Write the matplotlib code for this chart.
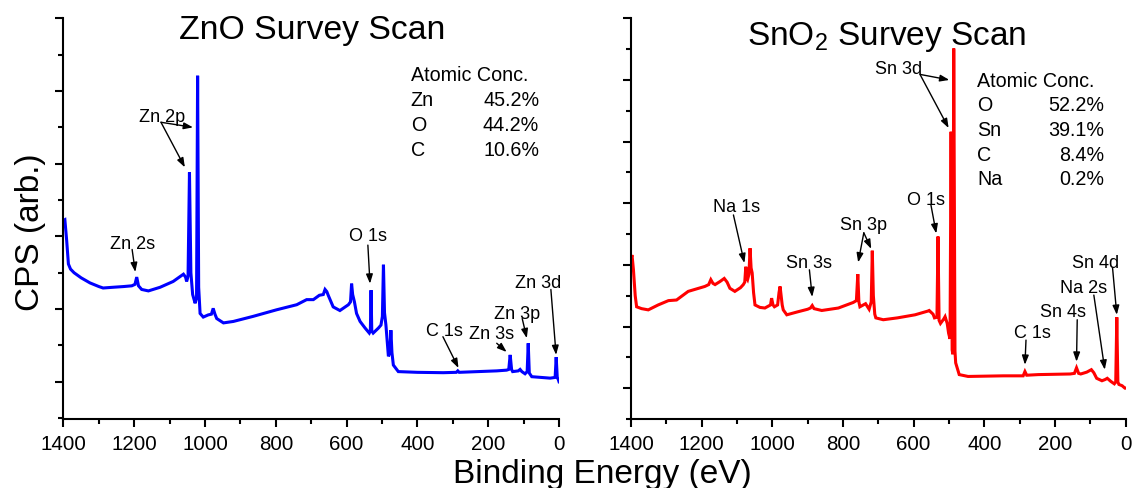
import matplotlib
matplotlib.use("Agg")
import matplotlib.pyplot as plt
from matplotlib.ticker import MultipleLocator, NullFormatter

plt.rcParams['font.family'] = ['Liberation Sans', 'DejaVu Sans']
plt.rcParams['mathtext.fontset'] = 'custom'
plt.rcParams['mathtext.rm'] = 'Liberation Sans'
plt.rcParams['mathtext.it'] = 'Liberation Sans'

# ---- ZnO survey spectrum (binding energy in eV, counts in arbitrary units) ----
zno_energy = [1400, 1396, 1391, 1386, 1380, 1370, 1350, 1325, 1300, 1288, 1260, 1230,
              1207, 1198, 1193, 1188, 1179, 1160, 1127, 1090, 1061, 1055, 1052, 1048,
              1044, 1040, 1035, 1028, 1024, 1021, 1018, 1014, 1005, 991, 982, 977, 972,
              967, 948, 920, 864, 798, 741, 713, 694, 677, 666, 661, 656, 652, 638, 619,
              595, 589, 586, 583, 578, 572, 562, 548, 536, 533, 531, 529, 525, 510, 503,
              499, 496, 493, 489, 482, 478, 475, 472, 468, 454, 400, 327, 290, 286, 282,
              176, 148, 142, 138, 134, 131, 115, 110, 105, 96, 90, 87, 84, 77, 25, 11, 8,
              5, 2, 0]
zno_cps = [2.22, 2.23, 1.95, 1.62, 1.55, 1.50, 1.43, 1.36, 1.31, 1.29, 1.30, 1.31,
           1.32, 1.34, 1.44, 1.32, 1.27, 1.25, 1.30, 1.38, 1.48, 1.44, 1.38, 1.45,
           2.88, 1.50, 1.20, 1.08, 1.15, 4.21, 1.30, 0.94, 0.89, 0.92, 0.93, 1.01, 0.93,
           0.87, 0.81, 0.83, 0.90, 0.99, 1.06, 1.13, 1.13, 1.19, 1.20, 1.27, 1.24, 1.19,
           1.03, 0.98, 1.06, 1.10, 1.35, 1.20, 1.10, 0.94, 0.83, 0.74, 0.67, 0.70, 1.26,
           0.70, 0.67, 0.74, 0.78, 0.90, 1.61, 0.95, 0.78, 0.35, 0.40, 0.71, 0.40, 0.23,
           0.14, 0.13, 0.125, 0.13, 0.15, 0.13, 0.15, 0.16, 0.17, 0.37, 0.17, 0.14, 0.15,
           0.17, 0.14, 0.11, 0.14, 0.53, 0.12, 0.07, 0.05, 0.06, 0.34, 0.06, 0.03, 0.0]

# ---- SnO2 survey spectrum ----
sno2_energy = [1400, 1397, 1393, 1388, 1384, 1370, 1351, 1323, 1294, 1271, 1238, 1191,
               1180, 1174, 1168, 1162, 1148, 1136, 1128, 1120, 1106, 1090, 1082, 1078,
               1075, 1072, 1070, 1066, 1063, 1060, 1057, 1053, 1049, 1035, 1021, 1005,
               1002, 998, 994, 985, 981, 978, 975, 972, 969, 959, 927, 900, 892, 887, 882,
               860, 813, 771, 762, 758, 755, 752, 736, 726, 720, 717, 714, 710, 707, 686,
               646, 596, 560, 556, 545, 541, 534, 531, 528, 524, 515, 511, 505, 501, 497,
               494, 491, 489, 486.5, 483, 481, 471, 446, 346, 290, 285, 280, 247, 157,
               145, 139, 133, 127, 110, 97, 90, 82, 67, 58, 52, 42, 32, 28, 25, 22, 19,
               10, 2, 0]
sno2_cps = [2.10, 2.16, 1.92, 1.50, 1.32, 1.29, 1.27, 1.35, 1.42, 1.43, 1.57, 1.65,
            1.68, 1.76, 1.70, 1.68, 1.73, 1.78, 1.72, 1.62, 1.57, 1.63, 1.68, 1.72,
            1.97, 1.78, 1.76, 1.85, 2.27, 1.95, 1.87, 1.55, 1.35, 1.31, 1.30, 1.35,
            1.46, 1.35, 1.32, 1.35, 1.55, 1.65, 1.50, 1.35, 1.27, 1.19, 1.24, 1.28, 1.30,
            1.34, 1.29, 1.26, 1.30, 1.39, 1.42, 1.85, 1.40, 1.32, 1.37, 1.28, 1.40, 2.23,
            1.50, 1.20, 1.14, 1.11, 1.14, 1.19, 1.25, 1.26, 1.20, 1.14, 1.15, 2.46, 1.10,
            1.05, 1.12, 1.16, 1.05, 0.89, 0.80, 4.16, 0.62, 0.55, 5.51, 0.60, 0.41, 0.22,
            0.19, 0.20, 0.20, 0.27, 0.21, 0.22, 0.23, 0.24, 0.33, 0.24, 0.23, 0.26, 0.30,
            0.25, 0.16, 0.12, 0.14, 0.16, 0.11, 0.07, 0.10, 1.15, 0.10, 0.06, 0.04, 0.0,
            0.0]

# Atomic concentrations (%)
zno_elements = ['Zn', 'O', 'C']
zno_conc = [45.2, 44.2, 10.6]
sno2_elements = ['O', 'Sn', 'C', 'Na']
sno2_conc = [52.2, 39.1, 8.4, 0.2]

# Peak labels: (text, text anchor (E, y), list of arrow (tail, tip) pairs)
zno_labels = [
    ('Zn 2p', (1122, 3.57), [((1124.5, 3.57), (1034, 3.50)), ((1124.5, 3.57), (1057, 2.95))]),
    ('Zn 2s', (1205, 1.82), [((1206, 1.82), (1197, 1.51))]),
    ('O 1s', (540, 1.94), [((540, 1.88), (534, 1.35))]),
    ('C 1s', (323, 0.63), [((328, 0.62), (284, 0.19))]),
    ('Zn 3s', (191, 0.59), [((176, 0.53), (148, 0.41))]),
    ('Zn 3p', (119, 0.87), [((104, 0.87), (91, 0.60))]),
    ('Zn 3d', (59, 1.29), [((23, 1.27), (8.3, 0.37))]),
]
sno2_labels = [
    ('Sn 3d', (642, 5.10), [((582, 5.09), (499, 5.0)), ((582, 5.09), (501, 4.22))]),
    ('Na 1s', (1101, 2.85), [((1110, 2.81), (1079, 2.03))]),
    ('Sn 3p', (742, 2.57), [((741, 2.52), (757, 2.04)), ((741, 2.52), (720, 2.26))]),
    ('Sn 3s', (896, 1.95), [((895, 1.92), (887, 1.48))]),
    ('O 1s', (566, 2.97), [((551, 2.97), (536, 2.51))]),
    ('C 1s', (265, 0.81), [((282, 0.78), (285, 0.38))]),
    ('Sn 4s', (176, 1.15), [((137, 1.11), (139, 0.43))]),
    ('Na 2s', (119, 1.54), [((90, 1.51), (59, 0.30))]),
    ('Sn 4d', (85, 1.95), [((37, 1.95), (25, 1.19))]),
]

fig = plt.figure(figsize=(11.33, 4.88), dpi=100)
ax_l = fig.add_axes([0.0560, 0.1408, 0.4374, 0.8217])
ax_r = fig.add_axes([0.5569, 0.1408, 0.4366, 0.8217])

arrow_kw = dict(arrowstyle='-|>,head_length=0.55,head_width=0.2', color='black',
                lw=1.0, shrinkA=0, shrinkB=0, mutation_scale=10)


def style_axes(ax, ylim):
    ax.set_xlim(1400, 0)
    ax.set_ylim(*ylim)
    for side in ('top', 'right'):
        ax.spines[side].set_visible(False)
    for side in ('left', 'bottom'):
        ax.spines[side].set_linewidth(1.5)
    ax.xaxis.set_major_locator(MultipleLocator(200))
    ax.xaxis.set_minor_locator(MultipleLocator(100))
    ax.yaxis.set_major_locator(MultipleLocator(1))
    ax.yaxis.set_minor_locator(MultipleLocator(0.5))
    ax.yaxis.set_major_formatter(NullFormatter())
    ax.tick_params(which='major', direction='out', length=6, width=1.5,
                   labelsize=14.8, pad=5.5)
    ax.tick_params(which='minor', direction='out', length=3.5, width=1.5)
    ax.set_facecolor('white')


def draw_labels(ax, labels):
    for text, pos, arrows in labels:
        ax.text(pos[0], pos[1], text, ha='center', va='baseline', fontsize=13)
        for tail, tip in arrows:
            ax.annotate('', xy=tip, xytext=tail, arrowprops=arrow_kw)


def draw_conc(ax, elements, conc, x_left, x_right, y_top, step):
    ax.text(x_left, y_top, 'Atomic Conc.', ha='left', va='baseline', fontsize=14.2)
    for i, (el, c) in enumerate(zip(elements, conc)):
        y = y_top - step * (i + 1)
        ax.text(x_left, y, el, ha='left', va='baseline', fontsize=14.2)
        ax.text(x_right, y, f'{c:.1f}%', ha='right', va='baseline', fontsize=14.2)


# ZnO panel
ax_l.plot(zno_energy, zno_cps, color='#0000ff', lw=2.2, solid_joinstyle='miter')
style_axes(ax_l, (-0.516, 5.0))
draw_labels(ax_l, zno_labels)
draw_conc(ax_l, zno_elements, zno_conc, 419, 56, 4.14, 0.345)
ax_l.text(0.501, 0.949, 'ZnO Survey Scan', transform=ax_l.transAxes,
          ha='center', va='baseline', fontsize=24.3)

# SnO2 panel
ax_r.plot(sno2_energy, sno2_cps, color='#ff0000', lw=2.2, solid_joinstyle='miter')
style_axes(ax_r, (-0.505, 6.0))
draw_labels(ax_r, sno2_labels)
draw_conc(ax_r, sno2_elements, sno2_conc, 421, 60, 4.89, 0.40)
ax_r.text(0.517, 0.933, r'SnO$_{\mathrm{2}}$ Survey Scan', transform=ax_r.transAxes,
          ha='center', va='baseline', fontsize=24)

fig.text(0.532, 0.010, 'Binding Energy (eV)', ha='center', va='baseline', fontsize=24)
fig.text(0.0265, 0.525, 'CPS (arb.)', ha='center', va='center', rotation=90, fontsize=24)

fig.savefig('out.png', dpi=100, facecolor='white')
